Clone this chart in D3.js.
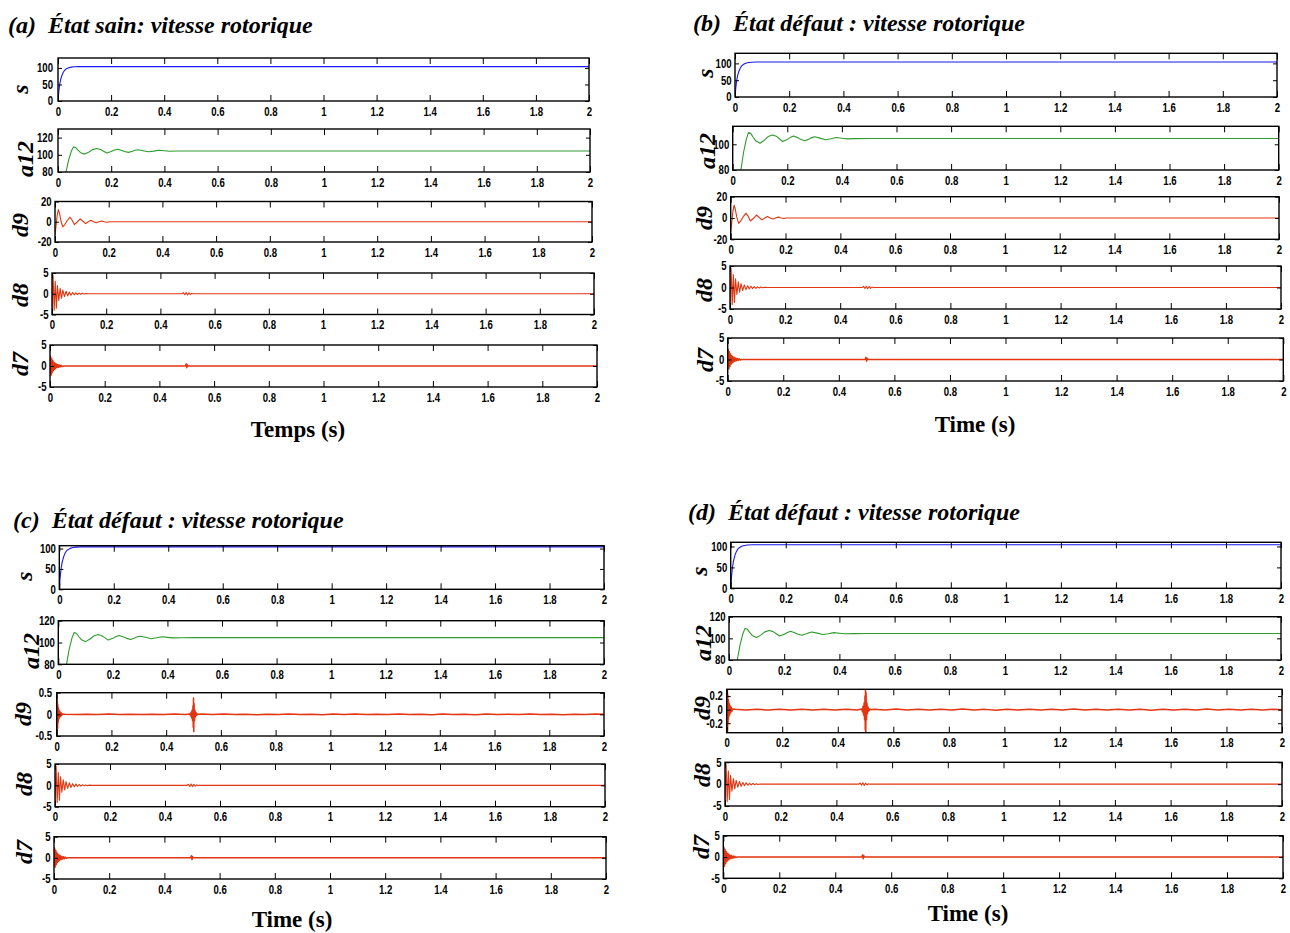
<!DOCTYPE html>
<html><head><meta charset="utf-8">
<script src="https://cdn.jsdelivr.net/npm/d3@7"></script>
<style>
body{margin:0;background:#fff}
svg{display:block}
.tick text{font-family:"Liberation Sans",Arial,sans-serif;font-weight:bold;font-size:12px;fill:#000}
.ttl{font-family:"Liberation Serif","Times New Roman",serif;font-weight:bold;font-style:italic;font-size:24px;white-space:pre}
.xl{font-family:"Liberation Serif","Times New Roman",serif;font-weight:bold;font-size:23px}
.yl{font-family:"Liberation Serif","Times New Roman",serif;font-weight:bold;font-style:italic;font-size:24px}
</style></head><body>
<svg id="c" width="1290" height="933"></svg>
<script>
// ---------------- DATA ----------------
const panelTitles = ["(a)  État sain: vitesse rotorique","(b)  État défaut : vitesse rotorique","(c)  État défaut : vitesse rotorique","(d)  État défaut : vitesse rotorique"];
const xAxisTitles = ["Temps (s)","Time (s)","Time (s)","Time (s)"];
const rowLabels = ["s","a12","d9","d8","d7"];
const xTicks = [0,0.2,0.4,0.6,0.8,1,1.2,1.4,1.6,1.8,2];
const xTickLabels = ["0","0.2","0.4","0.6","0.8","1","1.2","1.4","1.6","1.8","2"];

// y ticks and ranges per panel (rows: s, a12, d9, d8, d7)
const yTicksA = [[0,50,100],[80,100,120],[-20,0,20],[-5,0,5],[-5,0,5]];
const yTicksB = [[0,50,100],[80,100],[-20,0,20],[-5,0,5],[-5,0,5]];
const yTicksC = [[0,50,100],[80,100,120],[-0.5,0,0.5],[-5,0,5],[-5,0,5]];
const yTicksD = [[0,50,100],[80,100,120],[-0.2,0,0.2],[-5,0,5],[-5,0,5]];
const yRangeA = [[0,130],[80,130],[-20,20],[-5,5],[-5,5]];
const yRangeB = [[0,130],[80,114],[-20,20],[-5,5],[-5,5]];
const yRangeC = [[0,107],[80,120],[-0.5,0.5],[-5,5],[-5,5]];
const yRangeD = [[0,110],[80,120],[-0.34,0.3],[-5,5],[-5,5]];

// rotor speed s
const tS = [0,0.003,0.006,0.01,0.015,0.02,0.025,0.03,0.04,0.05,0.06,0.08,0.3,0.6,1.0,1.4,1.8,2.0];
const vS = [0,28,48,65,78,87,93,96.5,100.5,102.5,103.5,104,104,104,104,104,104,104];

// approximation a12
const tA12 = [0,0.02,0.03,0.04,0.05,0.058,0.066,0.075,0.085,0.1,0.115,0.13,0.146,0.16,0.17,0.183,0.2,0.21,0.223,0.24,0.25,0.265,0.28,0.29,0.3,0.32,0.34,0.36,0.38,0.4,0.42,0.45,0.5,1.0,1.5,2.0];
const vA12 = [40,68,80,94,104,109.2,108.5,105.5,102.5,100.8,103,106,107.3,106.2,104.5,102.2,103.8,105.2,106.5,105,103.8,102.8,104.2,105.2,105.8,104.8,103.5,104.3,105.3,104.7,104.2,104.4,104.5,104.5,104.5,104.5];

// detail d9, healthy-type signal (a, b)
const tD9h = [0,0.004,0.008,0.0125,0.017,0.022,0.029,0.036,0.045,0.056,0.064,0.072,0.082,0.094,0.104,0.114,0.124,0.134,0.144,0.154,0.164,0.174,0.184,0.194,0.204,0.5,1,1.5,2];
const vD9h = [-13,-4,6,12,8,1,-5,-3,1,4.5,1.5,-2.8,-0.5,2.8,0.5,-1.8,0,1.4,0,-1,0,0.8,0,-0.5,0,0,0,0,0];

// detail d9, faulty-type signal (c, d)
const tD9f = [0,0.0008,0.0016,0.0024,0.0032,0.004,0.0048,0.0056,0.0064,0.0072,0.008,0.009,0.01,0.011,0.012,0.0135,0.015,0.017,0.019,0.022,
  0.03,0.07,0.11,0.15,0.19,0.23,0.27,0.31,0.35,0.39,0.43,0.47,
  0.486,0.489,0.491,0.493,0.495,0.4965,0.498,0.499,0.5,0.501,0.502,0.5035,0.505,0.507,0.509,0.512,0.515,0.52,
  0.53,0.57,0.61,0.65,0.69,0.73,0.77,0.81,0.85,0.89,0.93,0.97,1.01,1.05,1.09,1.13,1.17,1.21,1.25,1.29,1.33,1.37,1.41,1.45,1.49,1.53,1.57,1.61,1.65,1.69,1.73,1.77,1.81,1.85,1.89,1.93,1.97,2.0];
const vD9f = [0,0.38,-0.45,0.3,-0.32,0.22,-0.2,0.15,-0.14,0.12,-0.1,0.09,-0.08,0.07,-0.06,0.05,-0.04,0.03,-0.02,0.01,
  0.005,-0.006,0.004,-0.005,0.007,-0.004,0.005,-0.006,0.004,-0.005,0.006,-0.005,
  0.01,-0.03,0.05,-0.08,0.1,-0.15,0.2,-0.3,0.38,-0.4,0.25,-0.15,0.1,-0.06,0.04,-0.02,0.01,0,
  0.006,-0.005,0.008,-0.006,0.004,-0.007,0.005,-0.004,0.008,-0.005,0.004,-0.008,0.006,-0.005,0.007,-0.004,0.005,-0.006,0.008,-0.005,0.004,-0.007,0.006,-0.004,0.005,-0.008,0.006,-0.005,0.004,-0.006,0.008,-0.005,0.005,-0.007,0.004,-0.005,0.006,0];

// detail d8
const tD8 = [0,0.004,0.008,0.012,0.016,0.02,0.025,0.03,0.035,0.04,0.046,0.052,0.058,0.064,0.07,0.076,0.082,0.088,0.094,0.1,0.106,0.112,0.118,0.125,0.135,0.48,0.485,0.49,0.495,0.5,0.505,0.51,0.515,0.52,1,2];
const vD8 = [-4,4.5,-4,3,-3.5,2,-1.6,1.3,-1.1,0.9,-0.7,0.6,-0.5,0.4,-0.35,0.3,-0.25,0.2,-0.18,0.15,-0.12,0.1,-0.08,0.05,0,0,0.25,-0.25,0.3,-0.3,0.25,-0.2,0.1,0,0,0];

// detail d7
const tD7 = [0,0.002,0.004,0.006,0.008,0.01,0.012,0.014,0.016,0.018,0.02,0.023,0.026,0.029,0.032,0.035,0.038,0.041,0.045,0.05,0.2,0.4,0.495,0.498,0.5,0.502,0.505,0.8,1.2,1.6,2.0];
const vD7 = [-2,2.3,-2.2,1.8,-1.6,1.3,-1.1,0.9,-0.8,0.7,-0.6,0.5,-0.4,0.35,-0.3,0.25,-0.2,0.15,-0.1,0,0,0,0,0.5,-0.4,0.3,0,0,0,0,0];

// ---------------- LAYOUT ----------------
const colors = {s:"#1717f2", a12:"#2e9b2e", d:"#e3350f"};
const layouts = [
  {boxes:[[58,58,589,101],[58,129,590,172],[55,201.5,592,242],[52,273,594,314.5],[50,345,597,387]],
   pad:[5,5,3.4,3.4,3.4], lab:[[28,89],[33,159],[28,225],[28,295],[28,364]], title:[8,33], xl:[298,437]},
  {boxes:[[735,53.3,1277,97],[732.7,126.3,1278.7,170],[730.7,196.7,1279,239.3],[730,266,1281,309],[727.7,338,1283.3,381]],
   pad:[3.4,3.4,3.4,3.4,3.4], lab:[[713,73],[715,151],[712,218],[712,290],[713,360]], title:[693,31], xl:[975,432]},
  {boxes:[[59.3,545.7,604,589.3],[58.3,620.7,604,664.3],[56.7,692.7,604,736],[55,764,605,806.7],[54,836.7,606,879]],
   pad:[3.4,3.4,4.6,3.4,3.4], lab:[[32,576],[39,651],[31,714],[32,784],[32,852]], title:[13,528], xl:[292,927]},
  {boxes:[[730.7,542.3,1281,588.3],[729,616.7,1281,660],[726.7,689.3,1282,732.7],[725,762.3,1282,806],[723.3,835.7,1283,878.3]],
   pad:[3.4,3.4,3.8,3.4,3.4], lab:[[707,571],[711,643],[710,708],[710,775],[709,847]], title:[688,520], xl:[968,921]}
];
const yTicksAll = [yTicksA,yTicksB,yTicksC,yTicksD];
const yRangeAll = [yRangeA,yRangeB,yRangeC,yRangeD];
const d9Series = [[tD9h,vD9h],[tD9h,vD9h],[tD9f,vD9f],[tD9f,vD9f]];

function narrow(sel){
  sel.selectAll(".tick text").each(function(){
    const l=this.getComputedTextLength();
    if(l>0){this.setAttribute("textLength",(l*0.8).toFixed(2));this.setAttribute("lengthAdjust","spacingAndGlyphs");}
  });
}

const svg = d3.select("#c");
let clipId = 0;
layouts.forEach((L,p)=>{
  svg.append("text").attr("class","ttl").attr("x",L.title[0]).attr("y",L.title[1]).text(panelTitles[p]);
  svg.append("text").attr("class","xl").attr("x",L.xl[0]).attr("y",L.xl[1]).attr("text-anchor","middle").text(xAxisTitles[p]);
  const d9w = p>=2 ? 1.5 : 1.1;
  const series = [[tS,vS,colors.s,1.1],[tA12,vA12,colors.a12,1.1],[d9Series[p][0],d9Series[p][1],colors.d,d9w],[tD8,vD8,colors.d,1.1],[tD7,vD7,colors.d,1.5]];
  L.boxes.forEach((b,r)=>{
    const [x0,y0,x1,y1]=b;
    const x = d3.scaleLinear().domain([0,2]).range([x0,x1]);
    const y = d3.scaleLinear().domain(yRangeAll[p][r]).range([y1,y0]);
    const g = svg.append("g");
    const id = "clip"+(clipId++);
    g.append("clipPath").attr("id",id).append("rect").attr("x",x0).attr("y",y0).attr("width",x1-x0).attr("height",y1-y0);
    const [tt,vv,col,sw] = series[r];
    const pts = tt.map((t,i)=>[t,vv[i]]);
    g.append("path").attr("clip-path",`url(#${id})`).attr("d",d3.line().x(d=>x(d[0])).y(d=>y(d[1]))(pts))
      .attr("fill","none").attr("stroke",col).attr("stroke-width",sw).attr("stroke-linejoin","round");
    const yt = yTicksAll[p][r];
    const gb = g.append("g").attr("transform",`translate(0,${y1})`)
      .call(d3.axisBottom(x).tickValues(xTicks).tickFormat((d,i)=>xTickLabels[i]).tickSizeInner(-6).tickSizeOuter(0).tickPadding(6));
    g.append("g").attr("transform",`translate(0,${y0})`)
      .call(d3.axisTop(x).tickValues(xTicks).tickFormat("").tickSizeInner(-6).tickSizeOuter(0));
    const gl = g.append("g").attr("transform",`translate(${x0},0)`)
      .call(d3.axisLeft(y).tickValues(yt).tickFormat(d=>String(d)).tickSizeInner(-4).tickSizeOuter(0).tickPadding(L.pad[r]));
    g.append("g").attr("transform",`translate(${x1},0)`)
      .call(d3.axisRight(y).tickValues(yt).tickFormat("").tickSizeInner(-4).tickSizeOuter(0));
    narrow(gb); narrow(gl);
    g.selectAll(".domain").remove();
    g.selectAll(".tick line").attr("stroke","#000").attr("stroke-width",1);
    g.append("rect").attr("x",x0).attr("y",y0).attr("width",x1-x0).attr("height",y1-y0)
      .attr("fill","none").attr("stroke","#000").attr("stroke-width",1.4);
    const [lx,ly]=L.lab[r];
    svg.append("text").attr("class","yl").attr("transform",`translate(${lx},${ly}) rotate(-90)`)
      .attr("text-anchor","middle").text(rowLabels[r]);
  });
});
</script>
</body></html>
